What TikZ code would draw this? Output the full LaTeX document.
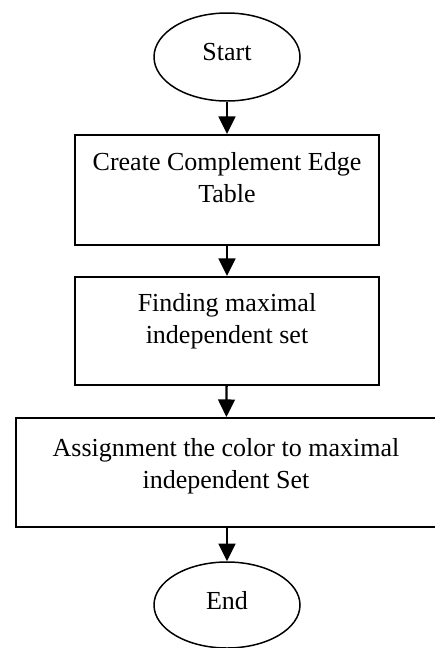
\documentclass[tikz,border=0pt]{standalone}
\usepackage{fontspec}
\setmainfont{Liberation Serif}
\usepackage{tikz}
\usetikzlibrary{arrows.meta,positioning,shapes.geometric}
\tikzset{
  termnode/.style={
    ellipse, draw=black, line width=0.85pt,
    minimum width=2.92cm, minimum height=1.76cm,
    font=\fontsize{14.8}{18.2}\selectfont, inner sep=0pt,
    text depth=0.2cm
  },
  procbox/.style={
    rectangle, draw=black, line width=1.1pt,
    minimum width=6.08cm, minimum height=2.18cm,
    inner sep=0pt
  },
  boxtext/.style={
    font=\fontsize{14.8}{18.2}\selectfont, align=center,
    inner sep=0pt
  },
  flowarrow/.style={
    -{Triangle[length=10pt,width=9.5pt]}, line width=1.3pt, color=black
  },
}

\begin{document}
\begin{tikzpicture}
  \useasboundingbox (0,0) rectangle (8.7,-12.96);

  \node[termnode] (start) at (4.54,-1.14) {Start};

  \node[procbox, minimum height=2.2cm] (b1) at (4.54,-3.80) {};
  \node[boxtext, below=0.36cm of b1.north] (t1)
    {Create Complement Edge\\Table};

  \node[procbox, minimum height=2.16cm] (b2) at (4.54,-6.62) {};
  \node[boxtext, below=0.34cm of b2.north] (t2)
    {Finding maximal\\independent set};

  \node[procbox, minimum width=8.4cm] (b3) at (4.52,-9.45) {};
  \node[boxtext, below=0.42cm of b3.north] (t3)
    {Assignment the color to maximal\\independent Set};

  \node[termnode, minimum height=1.72cm] (end) at (4.54,-12.10) {End};

  \draw[flowarrow] (start) -- (b1);
  \draw[flowarrow] (b1) -- (b2);
  \draw[flowarrow] (b2) -- (b3);
  \draw[flowarrow] (b3.south -| end) -- (end);
\end{tikzpicture}
\end{document}
